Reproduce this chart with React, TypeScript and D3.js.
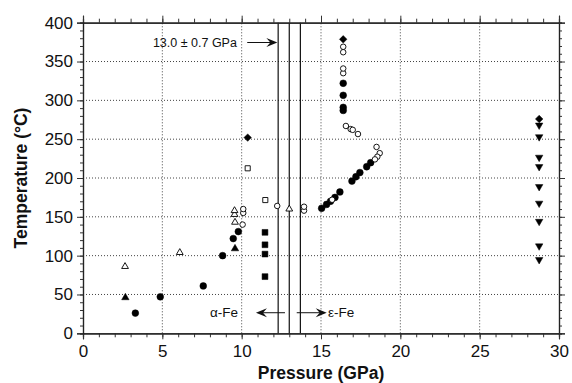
import React, { useEffect, useRef } from 'react'
import * as d3 from 'd3'

// data: [pressure GPa, temperature C]
const filledCircles = [
  [3.3, 26], [4.87, 47], [7.58, 61], [8.8, 100], [9.47, 122], [9.79, 131],
  [15.04, 161], [15.35, 166], [15.6, 170], [15.88, 175], [16.19, 182],
  [16.95, 196], [17.2, 201.6], [17.45, 207], [17.88, 214.5], [18.13, 219.7],
  [16.4, 322], [16.4, 306.5], [16.4, 291], [16.4, 287]
]
const openCircles = [
  [10.06, 140], [10.1, 155], [10.1, 160], [12.24, 164], [13.93, 158], [13.93, 163],
  [15.7, 172], [16.4, 362], [16.4, 369], [16.4, 335], [16.4, 341],
  [16.57, 267], [16.87, 263], [17.0, 262], [17.33, 256.6],
  [18.5, 240], [18.7, 232], [18.55, 227.4], [18.4, 224]
]
const filledTriangles = [[2.67, 46], [9.58, 109]]
const openTriangles = [[2.65, 86], [6.1, 104], [9.58, 143], [9.55, 153], [9.55, 158], [13.0, 160]]
const filledSquares = [[11.47, 130], [11.47, 114], [11.47, 102], [11.47, 73]]
const openSquares = [[10.38, 212.5], [11.49, 171.6]]
const filledDiamonds = [[10.38, 252], [16.4, 378.6], [28.75, 276]]
const downTriangles = [
  [28.75, 268], [28.75, 253], [28.75, 226.6], [28.75, 214.5], [28.75, 188.8],
  [28.75, 167.4], [28.75, 144], [28.75, 112.4], [28.75, 94.8]
]

const transitionLines = [12.3, 13.0, 13.7]
const xTicks = [0, 5, 10, 15, 20, 25, 30]
const yTicks = [0, 50, 100, 150, 200, 250, 300, 350, 400]

const W = 572
const H = 383

const App = () => {
  const svgRef = useRef<SVGSVGElement>(null)

  const x = d3.scaleLinear().domain([0, 30]).range([83, 559])
  const y = d3.scaleLinear().domain([0, 400]).range([333.3, 22.7])

  useEffect(() => {
    document.body.style.margin = '0'
    const svg = d3.select(svgRef.current)
    const g = svg.select('.axes')
    g.selectAll('*').remove()

    const font = 'Liberation Sans, Arial, sans-serif'

    // minor ticks
    g.append('g').attr('transform', `translate(0,${y(0)})`)
      .call(d3.axisBottom(x).tickValues(d3.range(0, 31, 1)).tickSize(4).tickFormat(() => ''))
    g.append('g').attr('transform', `translate(0,${y(400)})`)
      .call(d3.axisTop(x).tickValues(d3.range(0, 31, 1)).tickSize(4).tickFormat(() => ''))
    g.append('g').attr('transform', `translate(${x(0)},0)`)
      .call(d3.axisLeft(y).tickValues(d3.range(0, 401, 10)).tickSize(3).tickFormat(() => ''))
    g.append('g').attr('transform', `translate(${x(30)},0)`)
      .call(d3.axisRight(y).tickValues(d3.range(0, 401, 10)).tickSize(3).tickFormat(() => ''))

    // major ticks
    g.append('g').attr('transform', `translate(0,${y(0)})`)
      .call(d3.axisBottom(x).tickValues(xTicks).tickSize(6).tickPadding(6).tickFormat(d3.format('d')))
    g.append('g').attr('transform', `translate(0,${y(400)})`)
      .call(d3.axisTop(x).tickValues(xTicks).tickSize(7).tickFormat(() => ''))
    g.append('g').attr('transform', `translate(${x(0)},0)`)
      .call(d3.axisLeft(y).tickValues(yTicks).tickSize(6).tickPadding(4).tickFormat(d3.format('d')))
    g.append('g').attr('transform', `translate(${x(30)},0)`)
      .call(d3.axisRight(y).tickValues(yTicks).tickSize(6).tickFormat(() => ''))

    g.selectAll('.domain').attr('stroke', '#222').attr('stroke-width', 1.2)
    g.selectAll('.tick line').attr('stroke', '#333')
    g.selectAll('.tick text')
      .attr('font-family', font)
      .attr('font-size', 17)
      .attr('fill', '#111')
  }, [])

  const sym = (type: d3.SymbolType, size: number) => d3.symbol().type(type).size(size)()

  const markers = (
    data: number[][],
    path: string | null,
    filled: boolean,
    rotate = 0
  ) =>
    data.map((d, i) => (
      <path
        key={i}
        d={path || ''}
        transform={`translate(${x(d[0])},${y(d[1])}) rotate(${rotate})`}
        fill={filled ? '#000' : '#fff'}
        stroke="#000"
        strokeWidth={filled ? 0.5 : 0.9}
      />
    ))

  const arrow = (x1: number, x2: number, yy: number, key: string) => {
    const dir = x2 > x1 ? 1 : -1
    const tip = x(x2)
    const yp = y(yy)
    return (
      <g key={key}>
        <line x1={x(x1)} x2={tip - dir * 4} y1={yp} y2={yp} stroke="#111" strokeWidth={1} />
        <path
          d={`M${tip},${yp} L${tip - dir * 11},${yp - 4.5} L${tip - dir * 7},${yp} L${tip - dir * 11},${yp + 4.5} Z`}
          fill="#111"
        />
      </g>
    )
  }

  const font = 'Liberation Sans, Arial, sans-serif'

  return (
    <svg ref={svgRef} width={W} height={H} style={{ display: 'block', background: '#fff' }}>
      {/* grid */}
      <g stroke="#444" strokeWidth={1} strokeDasharray="1,2">
        {xTicks.slice(1, -1).map(t => (
          <line key={'gx' + t} x1={x(t)} x2={x(t)} y1={y(0)} y2={y(400)} />
        ))}
        {yTicks.slice(1, -1).map(t => (
          <line key={'gy' + t} x1={x(0)} x2={x(30)} y1={y(t)} y2={y(t)} />
        ))}
      </g>

      {/* phase boundary */}
      <g stroke="#111" strokeWidth={1.2}>
        {transitionLines.map(p => (
          <line key={'v' + p} x1={x(p)} x2={x(p)} y1={y(0)} y2={y(400)} />
        ))}
      </g>

      <g className="axes" />

      {/* annotations */}
      <text x={x(9.7)} y={y(369)} textAnchor="end" fontFamily={font} fontSize={12.5} fill="#111">
        13.0 ± 0.7 GPa
      </text>
      {arrow(10.35, 12.25, 374.5, 'a1')}
      <text x={x(9.77)} y={y(21.5)} textAnchor="end" fontFamily={font} fontSize={13.5} fill="#111">
        α-Fe
      </text>
      {arrow(12.73, 10.9, 26.5, 'a2')}
      {arrow(13.47, 15.36, 26.5, 'a3')}
      <text x={x(15.44)} y={y(21.5)} fontFamily={font} fontSize={13.5} fill="#111">
        ε-Fe
      </text>

      {/* data */}
      <g>
        {markers(filledCircles, sym(d3.symbolCircle, 36), true)}
        {markers(openCircles, sym(d3.symbolCircle, 24), false)}
        {markers(filledTriangles, sym(d3.symbolTriangle, 24), true)}
        {markers(openTriangles, sym(d3.symbolTriangle, 20), false)}
        {markers(filledSquares, sym(d3.symbolSquare, 34), true)}
        {markers(openSquares, sym(d3.symbolSquare, 26), false)}
        {markers(filledDiamonds, sym(d3.symbolSquare, 28), true, 45)}
        {markers(downTriangles, sym(d3.symbolTriangle, 24), true, 180)}
      </g>

      {/* axis titles */}
      <text
        x={x(15)}
        y={379}
        textAnchor="middle"
        fontFamily={font}
        fontWeight="bold"
        fontSize={17.5}
        fill="#111"
      >
        Pressure (GPa)
      </text>
      <text
        transform={`translate(27,${y(200)}) rotate(-90)`}
        textAnchor="middle"
        fontFamily={font}
        fontWeight="bold"
        fontSize={17.5}
        fill="#111"
      >
        Temperature (°C)
      </text>
    </svg>
  )
}

export default App
